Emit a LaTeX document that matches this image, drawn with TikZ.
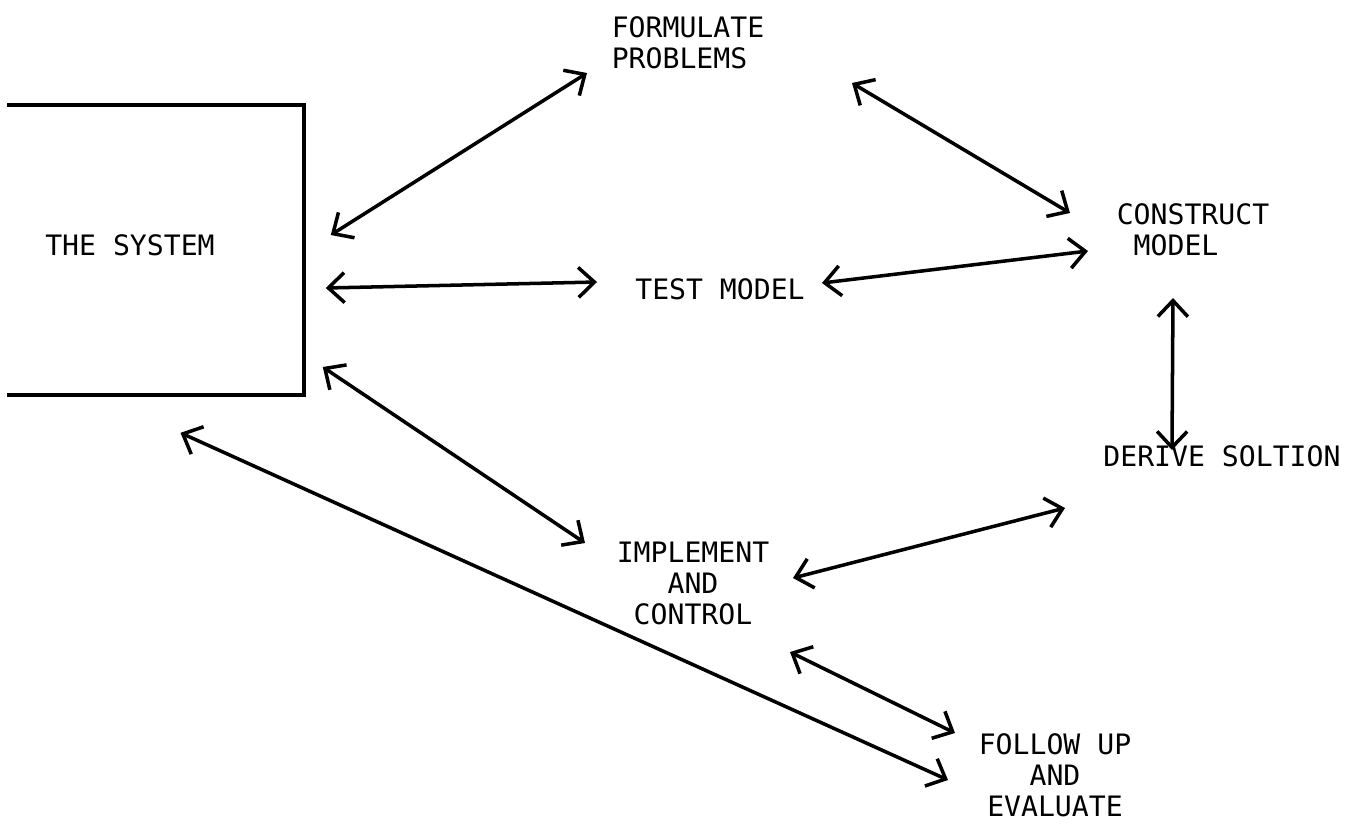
\documentclass[tikz,border=0pt]{standalone}
\usepackage{fontspec}
\setmonofont{DejaVu Sans Mono}
\usepackage{tikz}
\usetikzlibrary {arrows.meta}

\tikzset{
	label/.style = {font = \fontsize{8pt}{8.8pt}\selectfont\ttfamily, inner sep = 0pt},
	link/.style = {line width = 1pt, arrows = {Straight Barb[length = 1.6mm, width = 3mm]-Straight Barb[length = 1.6mm, width = 3mm]}},
}

\begin{document}
\begin{tikzpicture}[x = 0.01cm, y = -0.01cm]
		\useasboundingbox (0, 0) rectangle (1353, 823);
		% the system, open on its left side
		\node[minimum width = 2.95cm, minimum height = 2.88cm, inner sep = 0pt] (box) at (155.5, 250) {};
		\draw[line width = 1pt] (box.north west) -- (box.north east) -- (box.south east) -- (box.south west);
		\node[label] (syslabel) at (130, 245) {THE SYSTEM};

		\node[label, align = left] (form) at (688, 43) {FORMULATE\\PROBLEMS};
		\node[label, align = left] (cons) at (1193, 230) {CONSTRUCT\\\phantom{C}MODEL};
		\node[label] (test) at (720, 289) {TEST MODEL};
		\node[label] (deriv) at (1222, 456) {DERIVE SOLTION};
		\node[label, align = center] (impl) at (693, 583) {IMPLEMENT\\AND\\CONTROL};
		\node[label, align = center] (follow) at (1055, 775) {FOLLOW UP\\AND\\EVALUATE};

		\draw[link] ([shift = {(27, -15)}]box.east) -- ([shift = {(-101, 30)}]form.center);
		\draw[link] ([shift = {(164, 40)}]form.center) -- ([shift = {(-123, -17)}]cons.center);
		\draw[link] ([shift = {(22, 38)}]box.east) -- ([shift = {(-123, -7)}]test.center);
		\draw[link] ([shift = {(102, -6)}]test.center) -- ([shift = {(-105, 21)}]cons.center);
		\draw[link] ([shift = {(-20, 68)}]cons.center) -- ([shift = {(-50, -6)}]deriv.center);
		\draw[link] ([shift = {(19, 117)}]box.east) -- ([shift = {(-108, -40)}]impl.center);
		\draw[link] ([shift = {(100, -5)}]impl.center) -- ([shift = {(-157, 52)}]deriv.center);
		\draw[link] ([shift = {(97, 69)}]impl.center) -- ([shift = {(-100, -42)}]follow.center);
		\draw[link] ([shift = {(25, 38)}]box.south) -- ([shift = {(-107, 5)}]follow.center);
	\end{tikzpicture}
\end{document}
